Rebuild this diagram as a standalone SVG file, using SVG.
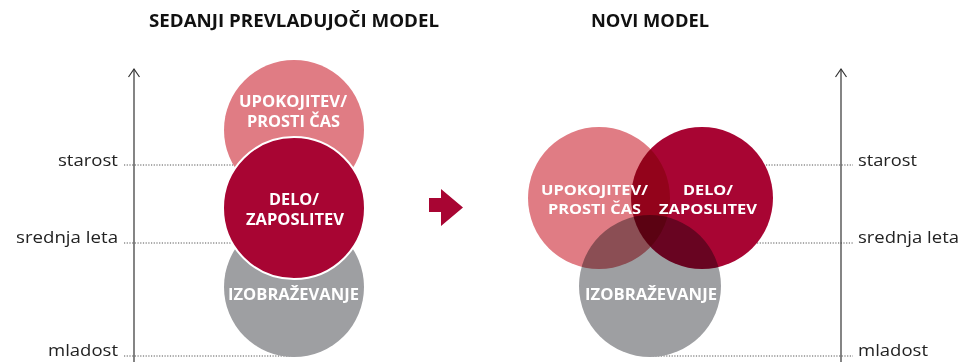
<svg xmlns="http://www.w3.org/2000/svg" width="963" height="362" viewBox="0 0 963 362">
<style>
.title{font-family:"Open Sans","Liberation Sans",sans-serif;font-weight:700;font-size:18.5px;fill:#111;text-anchor:middle}
.lbl{font-family:"Open Sans","Liberation Sans",sans-serif;font-size:17px;fill:#222}
.ct{font-family:"Open Sans","Liberation Sans",sans-serif;font-weight:700;font-size:15.5px;fill:#fff;text-anchor:middle}
.ct2{font-size:14.5px}
.dot{stroke:#555;stroke-width:1;stroke-dasharray:1.2 1.5;fill:none}
.axis{stroke:#333;stroke-width:1.2;fill:none}
.pink{fill:#e07c84}
.red{fill:#a80533}
.gray{fill:#9e9fa2}
.mul{mix-blend-mode:multiply}
</style>
<text class="title" x="294" y="27" textLength="290" lengthAdjust="spacingAndGlyphs">SEDANJI PREVLADUJOČI MODEL</text>
<text class="title" x="650" y="27" textLength="118" lengthAdjust="spacingAndGlyphs">NOVI MODEL</text>
<g id="connectors">
<line class="dot" x1="124" y1="165" x2="294" y2="165"/>
<line class="dot" x1="124" y1="243" x2="294" y2="243"/>
<line class="dot" x1="124" y1="356" x2="294" y2="356"/>
<line class="axis" x1="134" y1="362" x2="134" y2="69"/>
<path class="axis" d="M128.5,77 L134,69 L139.5,77"/>
<line class="dot" x1="766" y1="165" x2="853" y2="165"/>
<line class="dot" x1="757" y1="243" x2="853" y2="243"/>
<line class="dot" x1="650" y1="356" x2="853" y2="356"/>
<line class="axis" x1="841" y1="362" x2="841" y2="69"/>
<path class="axis" d="M835.5,77 L841,69 L846.5,77"/>
<path id="bigarrow" d="M429,198 H441 V189 L463,207.5 L441,226 V212 H429 Z" fill="#a80533"/>
</g>
<g id="axis-labels">
<text class="lbl" x="118" y="166" text-anchor="end" textLength="60" lengthAdjust="spacingAndGlyphs">starost</text>
<text class="lbl" x="118" y="243" text-anchor="end" textLength="102" lengthAdjust="spacingAndGlyphs">srednja leta</text>
<text class="lbl" x="118" y="356" text-anchor="end" textLength="70" lengthAdjust="spacingAndGlyphs">mladost</text>
<text class="lbl" x="858" y="166" textLength="59" lengthAdjust="spacingAndGlyphs">starost</text>
<text class="lbl" x="858" y="243" textLength="101" lengthAdjust="spacingAndGlyphs">srednja leta</text>
<text class="lbl" x="858" y="356" textLength="70" lengthAdjust="spacingAndGlyphs">mladost</text>
</g>
<g id="left-upokojitev">
<circle class="pink" cx="294" cy="130" r="70"/>
</g>
<g id="left-izobrazevanje">
<circle class="gray" cx="294" cy="287" r="70"/>
</g>
<g id="left-delo">
<circle class="red" cx="294" cy="208" r="71" stroke="#fff" stroke-width="2"/>
</g>
<g id="left-texts">
<text class="ct" x="293" y="107" textLength="108" lengthAdjust="spacingAndGlyphs">UPOKOJITEV/</text>
<text class="ct" x="293.5" y="127" textLength="93" lengthAdjust="spacingAndGlyphs">PROSTI ČAS</text>
<text class="ct" x="294" y="205" textLength="50" lengthAdjust="spacingAndGlyphs">DELO/</text>
<text class="ct" x="295" y="225" textLength="98" lengthAdjust="spacingAndGlyphs">ZAPOSLITEV</text>
<text class="ct" x="293.5" y="300" textLength="131" lengthAdjust="spacingAndGlyphs">IZOBRAŽEVANJE</text>
</g>
<g id="right-circles" style="isolation:isolate">
<g id="right-upokojitev"><circle class="pink mul" cx="599" cy="198" r="71"/></g>
<g id="right-delo"><circle class="red mul" cx="702" cy="198" r="71"/></g>
<g id="right-izobrazevanje"><circle class="gray mul" cx="650" cy="286" r="71"/></g>
</g>
<g id="right-texts">
<text class="ct ct2" x="594.5" y="195" textLength="107" lengthAdjust="spacingAndGlyphs">UPOKOJITEV/</text>
<text class="ct ct2" x="594.5" y="213.5" textLength="93" lengthAdjust="spacingAndGlyphs">PROSTI ČAS</text>
<text class="ct ct2" x="708" y="195" textLength="50" lengthAdjust="spacingAndGlyphs">DELO/</text>
<text class="ct ct2" x="708" y="213.5" textLength="98" lengthAdjust="spacingAndGlyphs">ZAPOSLITEV</text>
<text class="ct" x="651" y="300" textLength="132" lengthAdjust="spacingAndGlyphs">IZOBRAŽEVANJE</text>
</g>
</svg>
